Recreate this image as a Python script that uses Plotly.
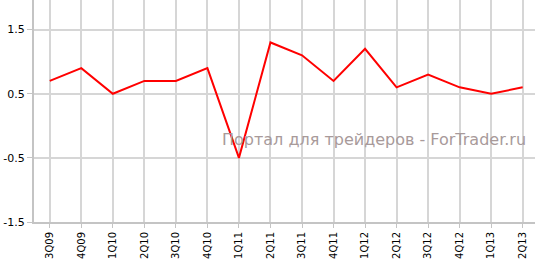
import plotly.graph_objects as go

quarters = ["3Q09", "4Q09", "1Q10", "2Q10", "3Q10", "4Q10", "1Q11", "2Q11",
            "3Q11", "4Q11", "1Q12", "2Q12", "3Q12", "4Q12", "1Q13", "2Q13"]
values = [0.7, 0.9, 0.5, 0.7, 0.7, 0.9, -0.5, 1.3,
          1.1, 0.7, 1.2, 0.6, 0.8, 0.6, 0.5, 0.6]
y_tickvals = [-1.5, -0.5, 0.5, 1.5]
y_ticktext = ["-1.5", "-0.5", "0.5", "1.5"]
watermark = "Портал для трейдеров - ForTrader.ru"

fig = go.Figure()
fig.add_trace(go.Scatter(
    x=list(range(len(quarters))), y=values, mode="lines",
    line=dict(color="#ff0000", width=2), hoverinfo="skip",
))

fig.update_layout(
    width=535, height=259,
    margin=dict(l=34, r=0, t=0, b=35),
    paper_bgcolor="white", plot_bgcolor="white",
    showlegend=False,
    font=dict(family="DejaVu Sans", size=11, color="#000000"),
    annotations=[dict(
        text=watermark, xref="paper", yref="paper",
        x=0.678, y=0.37, xanchor="center", yanchor="middle",
        showarrow=False,
        font=dict(family="DejaVu Sans", size=16, color="#a89a9a"),
    )],
)
fig.update_xaxes(
    range=[-0.5, 15.39],
    tickmode="array", tickvals=list(range(len(quarters))), ticktext=quarters,
    tickangle=-90, tickfont=dict(size=10),
    showgrid=True, gridcolor="#d6d6d6", gridwidth=2,
    showline=True, linecolor="#c4c4c4", linewidth=2,
    ticks="outside", ticklen=4, tickcolor="#c4c4c4", tickwidth=1,
    zeroline=False, fixedrange=True,
)
fig.update_yaxes(
    range=[-1.5, 1.962],
    tickmode="array", tickvals=y_tickvals, ticktext=y_ticktext,
    showgrid=True, gridcolor="#d6d6d6", gridwidth=1.5,
    showline=True, linecolor="#c4c4c4", linewidth=2,
    ticks="outside", ticklen=5, tickcolor="#c4c4c4", tickwidth=1,
    zeroline=False, fixedrange=True,
)

fig.write_html("out.html", config={"displayModeBar": False})
